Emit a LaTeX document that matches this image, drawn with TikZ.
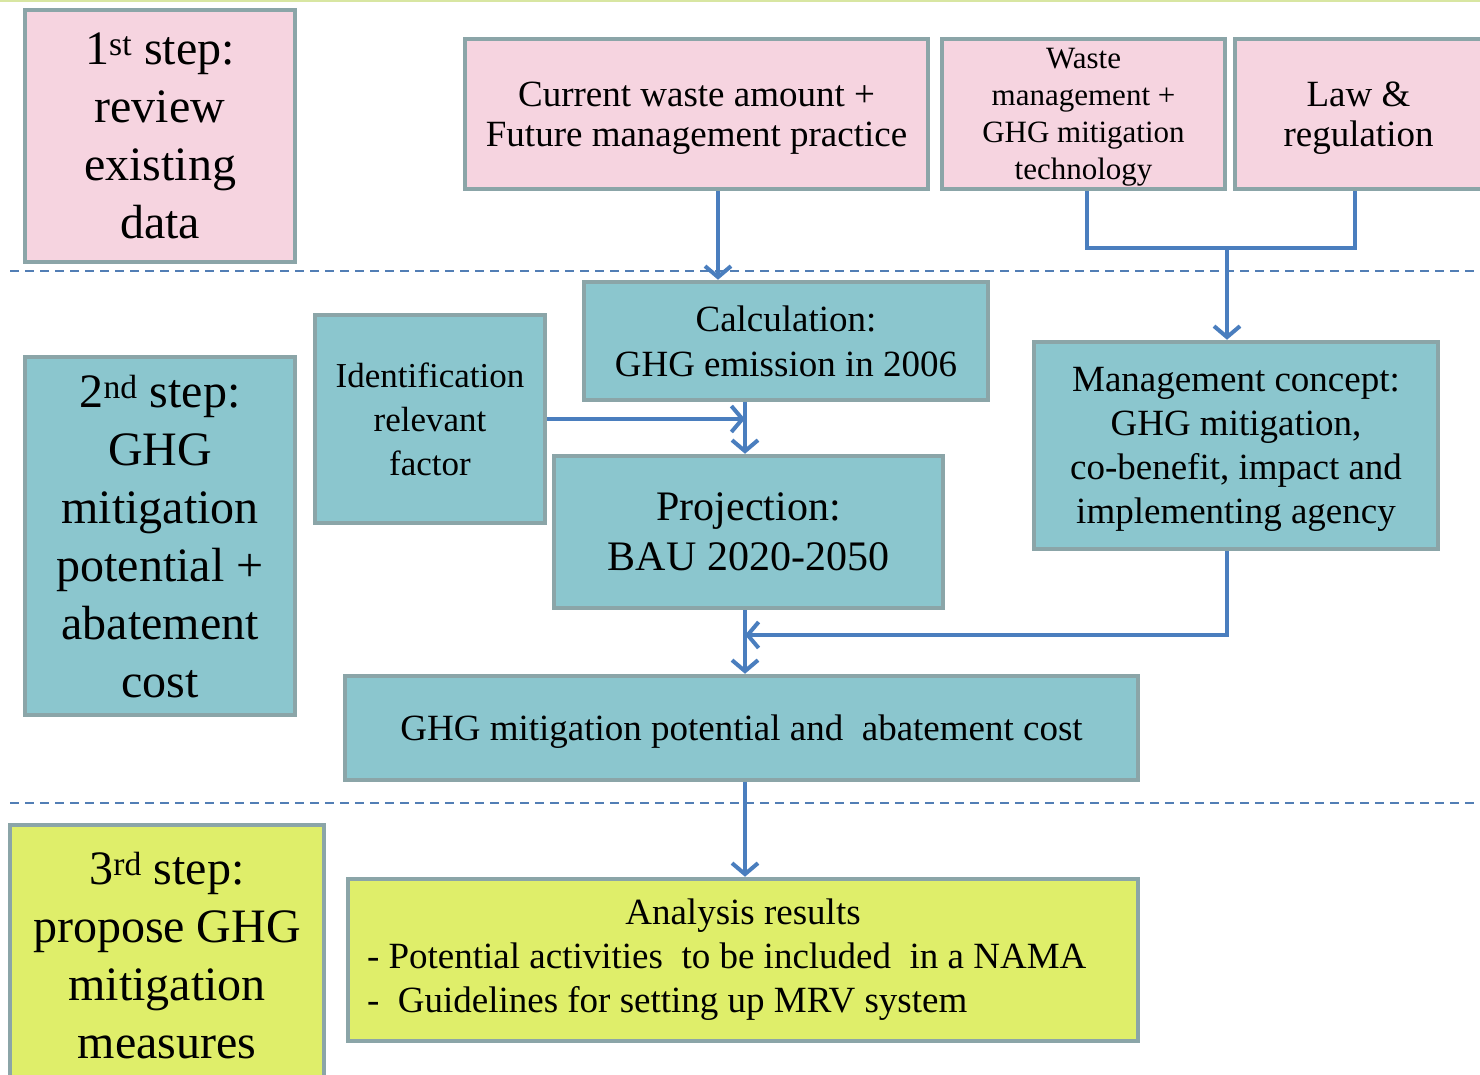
\documentclass[tikz,border=0pt]{standalone}
\usepackage{fontspec}
\setmainfont{Liberation Serif}
\usetikzlibrary{arrows.meta}
\definecolor{pinkfill}{HTML}{F6D4E0}
\definecolor{tealfill}{HTML}{8BC6CE}
\definecolor{limefill}{HTML}{DFEE6A}
\definecolor{boxline}{HTML}{8BA5A8}
\definecolor{flowblue}{HTML}{4A7EBE}
\definecolor{topline}{HTML}{D8E6A2}
\tikzset{
  box/.style={draw=boxline,line width=4.5pt,align=center,inner sep=2pt},
  pinkbox/.style={box,fill=pinkfill,text depth=0pt},
  tealbox/.style={box,fill=tealfill,text depth=0pt},
  limebox/.style={box,fill=limefill},
  flow/.style={draw=flowblue,line width=4pt},
  arr/.style={flow,-{Straight Barb[length=11pt,width=26pt,line width=4pt]}},
  sep/.style={draw=flowblue!85!gray,line width=2pt,dash pattern=on 9pt off 6pt},
}
\newcommand{\fs}[2]{\fontsize{#1}{#2}\selectfont}
\begin{document}
\begin{tikzpicture}[x=1pt,y=-1pt]
   \useasboundingbox (0,0) rectangle (1480,1075);
   \clip (0,0) rectangle (1480,1075);
   \draw[topline,line width=3pt] (0,1) -- (1480,1);
   \draw[sep] (10,271) -- (1480,271);
   \draw[sep] (10,803) -- (1480,803);

   \node[pinkbox,minimum width=270pt,minimum height=252pt,font=\fs{48}{58}] (step1) at (160,136)
      {1\textsuperscript{st} step:\\review\\existing\\data};
   \node[pinkbox,minimum width=463pt,minimum height=150pt,font=\fs{37}{40}] (current) at (696.5,114)
      {Current waste amount +\\Future management practice};
   \node[pinkbox,minimum width=283pt,minimum height=150pt,font=\fs{31}{37}] (waste) at (1083.5,114)
      {Waste\\management +\\GHG mitigation\\technology};
   \node[pinkbox,minimum width=247pt,minimum height=150pt,font=\fs{37}{40}] (law) at (1358.5,114)
      {Law \&\\regulation};

   \node[tealbox,minimum width=270pt,minimum height=358pt,font=\fs{48}{58}] (step2) at (160,536)
      {2\textsuperscript{nd} step:\\GHG\\mitigation\\potential +\\abatement\\cost};
   \node[tealbox,minimum width=404pt,minimum height=118pt,font=\fs{37}{45}] (calc) at (786,341)
      {Calculation:\\GHG emission in 2006};
   \node[tealbox,minimum width=230pt,minimum height=208pt,font=\fs{35}{44}] (ident) at (430,419)
      {Identification\\relevant\\factor};
   \node[tealbox,minimum width=389pt,minimum height=152pt,font=\fs{42}{50}] (proj) at (748.5,532)
      {Projection:\\BAU 2020-2050};
   \node[tealbox,minimum width=404pt,minimum height=207pt,font=\fs{37}{44}] (mgmt) at (1236,445.5)
      {Management concept:\\GHG mitigation,\\co-benefit, impact and\\implementing agency};
   \node[tealbox,minimum width=793pt,minimum height=104pt,font=\fs{37}{44}] (potential) at (741.5,728)
      {GHG mitigation potential and\ \ abatement cost};

   \node[limebox,text depth=0pt,minimum width=314pt,minimum height=260pt,font=\fs{48}{58}] (step3) at (167,955)
      {3\textsuperscript{rd} step:\\propose GHG\\mitigation\\measures};
   \node[limebox,minimum width=790pt,minimum height=162pt,text width=752pt,align=flush left,font=\fs{37}{44}] (results) at (743,960)
      {\makebox[752pt][c]{Analysis results}\\- Potential activities\ \ to be included\ \ in a NAMA\\-\ \ Guidelines for setting up MRV system};

   \coordinate (xa) at (718,0);
   \coordinate (xb) at (745,0);
   \coordinate (xw) at (1087,0);
   \coordinate (xl) at (1355,0);
   \coordinate (join) at (1227,248);
   \coordinate (back) at (1227,635);

   \draw[arr] (xa |- current.south) -- (xa |- calc.north);
   \draw[arr] (xb |- calc.south) -- (xb |- proj.north);
   \draw[arr] (ident.east) -- (ident.east -| xb);
   \draw[flow] (xw |- waste.south) |- (join) -| (xl |- law.south);
   \draw[arr] (join) -- (join |- mgmt.north);
   \draw[arr] (back |- mgmt.south) -- (back) -- (back -| xb);
   \draw[arr] (xb |- proj.south) -- (xb |- potential.north);
   \draw[arr] (xb |- potential.south) -- (xb |- results.north);
\end{tikzpicture}
\end{document}
